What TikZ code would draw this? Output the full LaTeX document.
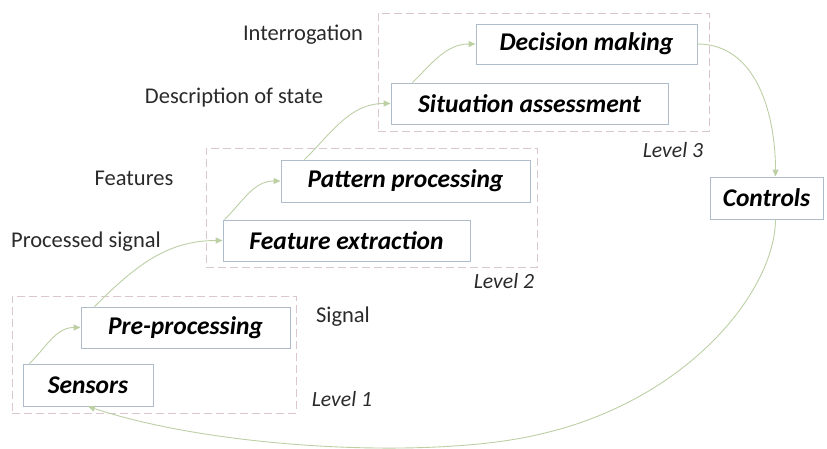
\documentclass[tikz,border=0pt]{standalone}
\usepackage{fontspec}
\setmainfont{Carlito}
\usetikzlibrary{arrows.meta}
\definecolor{framecol}{HTML}{DCC6CE}
\definecolor{boxcol}{HTML}{AEBCCB}
\definecolor{flowcol}{HTML}{BCD0A4}
\definecolor{labelcol}{HTML}{2A2A2A}
\tikzset{
  levelframe/.style={draw=framecol, line width=0.9pt, dash pattern=on 8pt off 4pt, inner sep=0pt},
  stagebox/.style={draw=boxcol, line width=0.9pt, fill=white, inner sep=0pt,
    font=\fontsize{25.5}{30}\selectfont\bfseries\itshape},
  sidelabel/.style={text=labelcol, inner sep=0pt, font=\fontsize{22.5}{27}\selectfont},
  levellabel/.style={text=labelcol, inner sep=0pt, font=\fontsize{21.7}{26}\selectfont\itshape},
  flow/.style={draw=flowcol, line width=0.9pt, -{Triangle[length=7pt,width=6pt]}},
}
\begin{document}
\begin{tikzpicture}[x=1pt,y=-1pt]
\useasboundingbox (0,0) rectangle (827,448);

% level frames
\node[levelframe, minimum width=284pt, minimum height=117pt] (lvlone)   at (154,354.5) {};
\node[levelframe, minimum width=331pt, minimum height=119pt] (lvltwo)   at (371.5,207.5) {};
\node[levelframe, minimum width=331pt, minimum height=118pt] (lvlthree) at (543.5,72) {};

% processing stages
\node[stagebox, minimum width=130pt, minimum height=42pt] (sens) at (88,385) {Sensors\hspace{8pt}};
\node[stagebox, minimum width=209pt, minimum height=41pt] (pre)  at (185.5,327.5) {Pre-processing};
\node[stagebox, minimum width=247pt, minimum height=41pt] (fe)   at (346.5,240.5) {Feature extraction};
\node[stagebox, minimum width=249pt, minimum height=42pt] (pp)   at (405.5,181) {Pattern processing};
\node[stagebox, minimum width=277pt, minimum height=41pt] (sa)   at (529.5,103.5) {Situation assessment};
\node[stagebox, minimum width=221pt, minimum height=40pt] (dm)   at (586.5,44) {Decision making};
\node[stagebox, minimum width=113pt, minimum height=42pt] (ctrl) at (766.5,198) {Controls};

% side labels
\node[sidelabel] (lint)  at (303,35)  {Interrogation};
\node[sidelabel] (ldesc) at (234,98)  {Description of state};
\node[sidelabel] (lfeat) at (134,178) {Features};
\node[sidelabel] (lproc) at (86,242)  {Processed signal};
\node[sidelabel] (lsig)  at (343,317) {Signal};

\node[levellabel] (tone)   at (342,399) {Level 1};
\node[levellabel] (ttwo)   at (504,281) {Level 2};
\node[levellabel] (tthree) at (673,150) {Level 3};

% flow between stages
\draw[flow] ([xshift=7pt]sens.north west) to[out=45,in=180] (pre.west);
\draw[flow] ([xshift=14pt]pre.north west) to[out=45,in=180] (fe.west);
\draw[flow] ([xshift=2pt]fe.north west)   to[out=45,in=180] (pp.west);
\draw[flow] ([xshift=24pt]pp.north west)  to[out=45,in=180] (sa.west);
\draw[flow] ([xshift=22pt]sa.north west)  to[out=45,in=180] (dm.west);
\draw[flow] (dm.east) to[out=0,in=90] ([xshift=9pt]ctrl.north);

% feedback loop
\coordinate (loopbottom) at (545,433);
\draw[flow] ([xshift=9pt]ctrl.south) .. controls (775,290) and (690,398) .. (loopbottom)
  .. controls (440,460) and (220,450) .. (sens.south);
\end{tikzpicture}
\end{document}
